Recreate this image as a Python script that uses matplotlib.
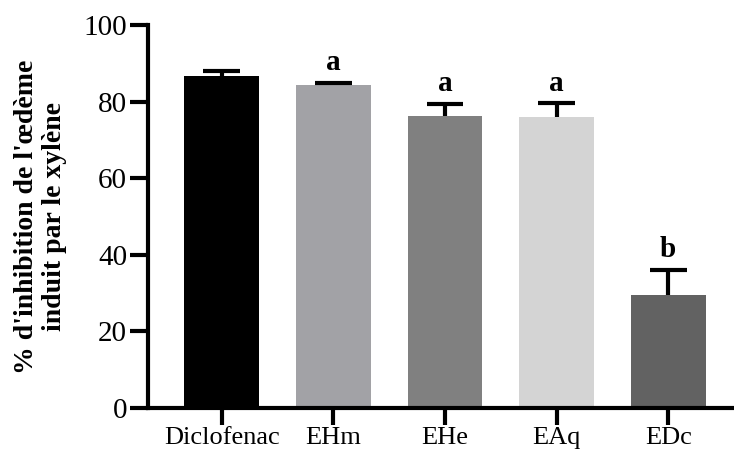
import matplotlib
matplotlib.use("Agg")
import matplotlib.pyplot as plt

groups = ['Diclofenac', 'EHm', 'EHe', 'EAq', 'EDc']
means = [86.8, 84.2, 76.2, 76.1, 29.5]
errors = [1.3, 0.7, 3.2, 3.4, 6.5]
letters = ['', 'a', 'a', 'a', 'b']
colors = ['#000000', '#a2a2a6', '#808080', '#d4d4d4', '#626262']

plt.rcParams['font.family'] = ['Liberation Serif', 'DejaVu Serif']

fig = plt.figure(figsize=(7.34, 4.54), dpi=100)
ax = fig.add_axes([0.2016, 0.1013, 0.80, 0.8437])

x = list(range(len(groups)))
ax.bar(x, means, width=0.67, color=colors, zorder=2)

# upper error bars only
tops = [m + e for m, e in zip(means, errors)]
ax.vlines(x, means, tops, colors='black', linewidth=3, zorder=3)
ax.hlines(tops, [i - 0.165 for i in x], [i + 0.165 for i in x],
          colors='black', linewidth=3, zorder=3)

for i, (t, lab) in enumerate(zip(tops, letters)):
    if lab:
        ax.text(i, t + 3.3, lab, ha='center', va='baseline',
                fontsize=21, fontweight='bold')

ax.set_ylim(0, 100)
ax.set_xlim(-0.66, 4.6)
ax.set_yticks([0, 20, 40, 60, 80, 100])
ax.set_xticks(x)
ax.set_xticklabels(groups)
ax.set_ylabel("% d'inhibition de l'œdème\ninduit par le xylène",
              fontsize=20, fontweight='bold', labelpad=12, linespacing=1.15)

for s in ['top', 'right']:
    ax.spines[s].set_visible(False)
for s in ['left', 'bottom']:
    ax.spines[s].set_linewidth(3)
ax.tick_params(axis='y', width=3, length=13, labelsize=21, pad=2)
ax.tick_params(axis='x', width=3, length=12, labelsize=19, pad=1.5)

fig.savefig('out.png', dpi=100)
